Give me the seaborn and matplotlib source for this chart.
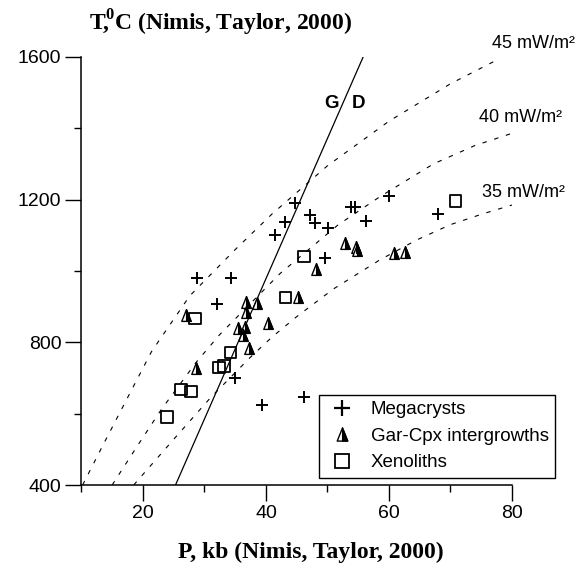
import matplotlib
matplotlib.use("Agg")
import matplotlib.pyplot as plt
import seaborn as sns
from matplotlib.path import Path
from matplotlib.markers import MarkerStyle
from matplotlib.lines import Line2D
from matplotlib.legend_handler import HandlerTuple

# ---- data ----
mega_P = [28.8, 34.4, 32.0, 34.9, 39.4, 46.2, 41.4, 43.1, 44.7, 47.1, 48.0, 50.1, 49.6, 53.9, 54.4, 56.2, 60.0, 68.0]
mega_T = [979, 979, 907, 699, 624, 646, 1101, 1138, 1191, 1157, 1134, 1121, 1037, 1180, 1180, 1140, 1211, 1160]

gar_P = [27.0, 28.7, 36.8, 38.5, 36.8, 40.4, 35.5, 36.6, 36.3, 37.3, 45.2, 48.1, 52.8, 54.6, 54.8, 60.8, 62.6]
gar_T = [877, 729, 914, 909, 884, 853, 839, 844, 820, 785, 928, 1005, 1078, 1066, 1059, 1050, 1054]

xen_P = [23.9, 26.2, 27.8, 28.5, 32.4, 33.2, 34.2, 43.2, 46.2, 70.8]
xen_T = [591, 668, 662, 867, 729, 734, 771, 926, 1040, 1196]

geo45_P = [10.2, 13.3, 17.0, 21.4, 27.6, 35.0, 41.0, 50.0, 60.0, 70.0, 77.7]
geo45_T = [400, 505, 628, 774, 930, 1060, 1160, 1295, 1420, 1525, 1593]
geo40_P = [15.0, 19.0, 23.0, 28.7, 32.5, 42.3, 51.7, 58.5, 67.2, 74.0, 80.0]
geo40_T = [400, 507, 612, 745, 822, 993, 1129, 1208, 1300, 1352, 1386]
geo35_P = [18.5, 25.0, 31.0, 37.4, 41.0, 45.0, 51.0, 58.5, 64.5, 70.0, 75.2, 80.0]
geo35_T = [400, 528, 645, 757, 815, 872, 950, 1031, 1087, 1130, 1160, 1185]

gd_P = [25.3, 55.8]
gd_T = [400, 1600]

geo_labels = ["45 mW/m\u00b2", "40 mW/m\u00b2", "35 mW/m\u00b2"]
legend_labels = ["Megacrysts", "Gar-Cpx intergrowths", "Xenoliths"]
x_ticks = [20, 40, 60, 80]
y_ticks = [400, 800, 1200, 1600]

# ---- style ----
sns.set_theme(style="ticks", rc={
    "text.color": "black", "axes.edgecolor": "black", "axes.labelcolor": "black",
    "xtick.color": "black", "ytick.color": "black",
})
plt.rcParams['font.family'] = ['Liberation Sans', 'DejaVu Sans']
plt.rcParams['mathtext.fontset'] = 'custom'
plt.rcParams['mathtext.rm'] = 'Liberation Serif'
plt.rcParams['mathtext.bf'] = 'Liberation Serif:bold'

W, H = 580, 568
fig = plt.figure(figsize=(W / 100, H / 100), dpi=100)
L, R, T0, B0 = 81.4, 512.0, 57.0, 485.0
ax = fig.add_axes([L / W, (H - B0) / H, (R - L) / W, (B0 - T0) / H])
ax.set_facecolor("white")

# custom half-filled triangle markers
tri_full = Path([(-0.8, -1), (0.8, -1), (0, 1), (-0.8, -1)],
                [Path.MOVETO, Path.LINETO, Path.LINETO, Path.CLOSEPOLY])
tri_half = Path([(0, 1), (0.8, -1), (0, -1), (0, 1)],
                [Path.MOVETO, Path.LINETO, Path.LINETO, Path.CLOSEPOLY])

dash = (0, (4, 7))
for gp, gt in [(geo45_P, geo45_T), (geo40_P, geo40_T), (geo35_P, geo35_T)]:
    sns.lineplot(x=gp, y=gt, ax=ax, color="black", linewidth=0.8,
                 linestyle=dash, sort=False, estimator=None)
sns.lineplot(x=gd_P, y=gd_T, ax=ax, color="black", linewidth=0.9,
             sort=False, estimator=None)

sns.scatterplot(x=mega_P, y=mega_T, ax=ax, marker="+", s=85, color="black",
                linewidth=1.4, zorder=5)
sns.scatterplot(x=gar_P, y=gar_T, ax=ax, marker=MarkerStyle(tri_full), s=72,
                facecolor="white", edgecolor="black", linewidth=1.0, zorder=5)
sns.scatterplot(x=gar_P, y=gar_T, ax=ax, marker=MarkerStyle(tri_half), s=72,
                facecolor="black", edgecolor="black", linewidth=0.8, zorder=6)
sns.scatterplot(x=xen_P, y=xen_T, ax=ax, marker="s", s=68,
                facecolor="none", edgecolor="black", linewidth=1.3, zorder=5)

ax.set_xlim(10, 80)
ax.set_ylim(400, 1600)
sns.despine(ax=ax)
for sp in ["left", "bottom"]:
    ax.spines[sp].set_linewidth(1.1)

ax.set_xticks(x_ticks)
ax.set_xticks([10, 30, 50, 70], minor=True)
ax.set_yticks(y_ticks)
ax.set_yticks([600, 1000, 1400], minor=True)
ax.tick_params(axis="both", which="major", direction="out", length=11.5,
               width=1.0, labelsize=14, pad=3)
ax.tick_params(axis="both", which="minor", direction="out", length=5, width=1.0)

ax.set_xlabel("P, kb (Nimis, Taylor, 2000)", fontfamily="Liberation Serif",
              fontweight="bold", fontsize=17)
ax.xaxis.label.set_va("center")
ax.xaxis.set_label_coords((311 - L) / (R - L), (B0 - 552) / (B0 - T0))
ax.set_ylabel("")

# y-axis title with the small "0" raised over the comma, as one text
fig.text(89 / W, 1 - 22.5 / H, r"T$^{\mathbf{0}}\!\!\!$, C (Nimis, Taylor, 2000)",
         ha="left", va="center", fontfamily="Liberation Serif",
         fontweight="bold", fontsize=17)

# geotherm labels
for lab, px, py in [(geo_labels[0], 76.7, 1639), (geo_labels[1], 74.6, 1429),
                    (geo_labels[2], 75.2, 1221)]:
    ax.text(px, py, lab, ha="left", va="center", fontsize=13, clip_on=False)

ax.text(50.65, 1470, "G", ha="center", va="center", fontsize=13.5, fontweight="bold")
ax.text(54.97, 1470, "D", ha="center", va="center", fontsize=13.5, fontweight="bold")

# legend
h1 = Line2D([], [], marker="+", color="black", ls="none", markersize=12, mew=1.6)
h2a = Line2D([], [], marker=MarkerStyle(tri_full), ls="none", markersize=9.5,
             markerfacecolor="white", markeredgecolor="black", mew=1.0)
h2b = Line2D([], [], marker=MarkerStyle(tri_half), ls="none", markersize=9.5,
             markerfacecolor="black", markeredgecolor="black", mew=0.8)
h3 = Line2D([], [], marker="s", ls="none", markersize=9.5,
            markerfacecolor="none", markeredgecolor="black", mew=1.3)
leg = ax.legend([h1, (h2a, h2b), h3], legend_labels,
                handler_map={tuple: HandlerTuple(ndivide=1, pad=0)},
                loc="lower left", bbox_to_anchor=(319 / W, (H - 478) / H),
                bbox_transform=fig.transFigure, frameon=True, fancybox=False,
                edgecolor="black", framealpha=1, fontsize=13.5, handlelength=1.8,
                handletextpad=0.6, borderpad=0.35, labelspacing=0.5, borderaxespad=0)
leg.get_frame().set_linewidth(1.0)

fig.savefig("out.png", dpi=100, facecolor="white")
